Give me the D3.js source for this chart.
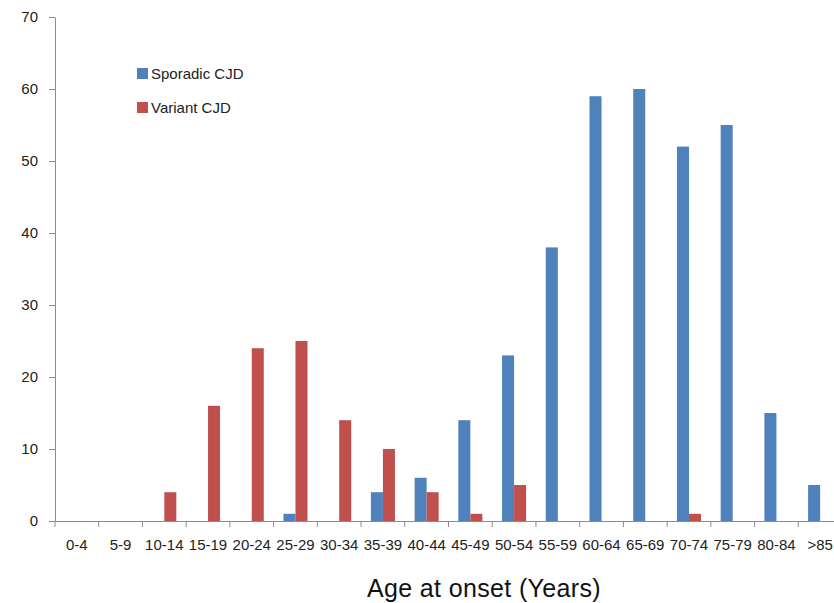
<!DOCTYPE html>
<html><head><meta charset="utf-8">
<script src="https://cdn.jsdelivr.net/npm/d3@7/dist/d3.min.js"></script>
<style>body{margin:0;background:#fff;}svg{display:block;}</style>
</head><body>
<svg id="chart" width="834" height="603"></svg>
<script>
const categories = ["0-4","5-9","10-14","15-19","20-24","25-29","30-34","35-39","40-44","45-49","50-54","55-59","60-64","65-69","70-74","75-79","80-84",">85"];
const sporadic = [0,0,0,0,0,1,0,4,6,14,23,38,59,60,52,55,15,5];
const variant  = [0,0,4,16,24,25,14,10,4,1,5,0,0,0,1,0,0,0];
const seriesNames = ["Sporadic CJD","Variant CJD"];
const seriesColors = ["#4F81BD","#C0504D"];
const yTicks = [0,10,20,30,40,50,60,70];

(function(){
const svg = d3.select("#chart");
const mLeft = 55, mRight = 842, mTop = 17, mBottom = 521;
const font = "'Liberation Sans', Arial, sans-serif";

const x0 = d3.scaleBand().domain(categories).range([mLeft, mRight]).padding(0);
const x1 = d3.scaleBand().domain(seriesNames).range([x0.bandwidth()*0.225, x0.bandwidth()*0.775]).padding(0);
const y = d3.scaleLinear().domain([0,70]).range([mBottom, mTop]);

const data = categories.map((c,i)=>({cat:c, vals:[sporadic[i], variant[i]]}));

const g = svg.append("g");
g.selectAll("g.cat").data(data).join("g").attr("class","cat")
  .attr("transform", d=>`translate(${x0(d.cat)},0)`)
  .selectAll("rect").data(d=>d.vals.map((v,j)=>({v, name:seriesNames[j], color:seriesColors[j]})))
  .join("rect")
  .attr("x", d=>x1(d.name))
  .attr("width", x1.bandwidth())
  .attr("y", d=>y(d.v))
  .attr("height", d=>y(0)-y(d.v))
  .attr("fill", d=>d.color);

// Y axis
const yAxis = svg.append("g").attr("transform",`translate(${mLeft},0)`)
  .call(d3.axisLeft(y).tickValues(yTicks).tickSize(6).tickPadding(11).tickSizeOuter(0));
yAxis.select(".domain").attr("stroke","#8c8c8c");
yAxis.selectAll(".tick line").attr("stroke","#8c8c8c");
yAxis.selectAll(".tick text").attr("font-family",font).attr("font-size",15).attr("fill","#222");

// X axis
const xAxis = svg.append("g").attr("transform",`translate(0,${mBottom})`)
  .call(d3.axisBottom(x0).tickSize(0).tickSizeOuter(0).tickPadding(18));
xAxis.select(".domain").attr("stroke","#8c8c8c");
xAxis.selectAll(".tick text").attr("font-family",font).attr("font-size",15).attr("fill","#222");
const bounds = categories.map(c=>x0(c)).concat([mRight]);
svg.append("g").selectAll("line").data(bounds).join("line")
  .attr("x1",d=>d).attr("x2",d=>d).attr("y1",mBottom).attr("y2",mBottom+6)
  .attr("stroke","#8c8c8c");

// Axis title
svg.append("text").attr("x",484).attr("y",597).attr("text-anchor","middle")
  .attr("font-family",font).attr("font-size",25).attr("letter-spacing",0.35).attr("fill","#111")
  .text("Age at onset (Years)");

// Legend
const leg = svg.append("g");
seriesNames.forEach((n,i)=>{
  const yy = 68 + i*34;
  leg.append("rect").attr("x",137).attr("y",yy).attr("width",11).attr("height",11).attr("fill",seriesColors[i]);
  leg.append("text").attr("x",151).attr("y",yy+11).attr("font-family",font).attr("font-size",15).attr("fill","#222").text(n);
});
})();
</script>
</body></html>
